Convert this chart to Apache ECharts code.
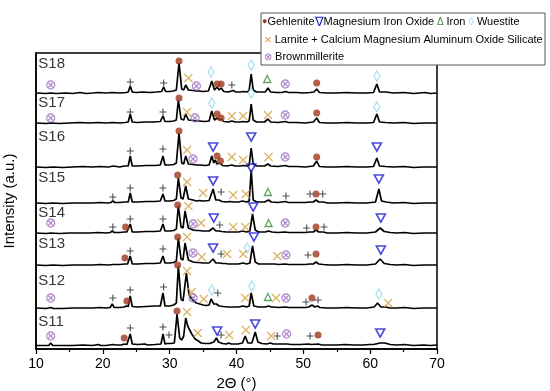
<!DOCTYPE html>
<html><head><meta charset="utf-8">
<script src="https://cdn.jsdelivr.net/npm/echarts@6/dist/echarts.min.js"></script>
<style>html,body{margin:0;padding:0;background:#fff}#c{width:550px;height:391px}</style>
</head><body><div id="c"></div>
<script>
// ---------- data ----------
const sampleNames = ['S18','S17','S16','S15','S14','S13','S12','S11'];
const offsets = [255, 225, 181, 145, 115, 83, 40, 3];
const labelY = [285, 246, 212, 171, 136, 105, 68, 27];
const labelX = 10.35;

const s18 = [[10,1],[11.5,0.5],[12.2,1],[13,0.5],[14.5,1],[15.5,0.5],[16.6,1.5],[17.5,0.5],[18.5,1],[19.3,1.5],[20.5,1],[21.5,1.5],[22.5,1],[23.5,1.5],[23.8,2],[24.1,8],[24.4,2],[25,1.5],[26,2],[27,1.5],[28,2],[28.8,2.5],[29.1,7],[29.4,2.5],[30,2.5],[30.5,3],[31.0,4],[31.4,31],[31.8,5],[32.1,4],[32.4,9],[32.8,4],[33.5,3.5],[34.0,3],[34.4,3],[35,2.5],[35.8,3],[36.3,13],[36.7,4],[37.1,7],[37.4,4],[37.7,6],[38.1,2.5],[38.8,2],[39.5,3.5],[39.9,2],[40.5,2],[41.0,2.5],[41.6,2],[41.9,4],[42.2,20],[42.5,4],[43,2],[43.8,2],[44.3,2],[44.7,6],[45.1,2],[46,1.5],[46.8,1.5],[47.3,2.5],[47.8,1.5],[49,1.5],[50,1],[51,1.5],[51.6,2],[52.0,5],[52.4,1.5],[53.5,1],[55,1],[56.5,1.5],[58,1],[59.5,1],[60.5,1.5],[61.0,10],[61.4,2],[62.3,2],[63.5,1],[65.1,1.5],[66.5,0.5],[68.2,1.5],[69,0.5],[70,1]];
const s17 = [[10,1],[11.5,0.5],[12.2,1],[13.5,0.5],[15,1],[16.5,1.5],[18,1],[19.3,1.5],[20.5,1],[21.5,1.5],[22.5,1],[23.3,1.5],[23.8,2],[24.1,10],[24.4,2],[25.2,1.5],[26.3,2],[27.5,2],[28.6,2.5],[29.0,8],[29.3,2.5],[30,2.5],[30.6,3],[31.0,4],[31.3,24],[31.7,5],[32.1,4],[32.4,10],[32.8,4],[33.5,3.5],[34.0,3],[34.4,3],[35.2,2.5],[35.9,3],[36.3,13],[36.7,4],[37.1,6],[37.4,4],[37.7,5],[38.1,2.5],[38.8,2],[39.3,3],[39.8,2],[40.5,2],[41.0,2.5],[41.6,2],[41.9,3],[42.2,20],[42.5,4],[43,2],[44.2,2],[44.7,5],[45.1,2],[46.2,1.5],[47.3,2.5],[47.8,1.5],[49,1.5],[50.3,1],[51.5,2],[52.0,6],[52.4,1.5],[53.5,1],[55,1],[56.5,1.5],[58,1],[59.5,1],[60.5,1.5],[61.0,10],[61.4,2],[62.3,1.5],[63.5,1],[65.1,1.5],[66.5,0.5],[68,1],[70,1]];
const s16 = [[10,1],[11.5,0.5],[12.5,1],[14,0.5],[15.5,1],[17,1.5],[18.5,1],[19.5,1.5],[20.8,1],[21.6,2],[22.5,1],[23.2,2],[23.8,2],[24.1,12],[24.4,2],[25.2,2],[26.5,2.5],[27.8,2.5],[28.6,3],[29.0,12],[29.3,3],[30,3],[30.6,3.5],[31.0,5],[31.4,35],[31.8,5],[32.1,4],[32.4,12],[32.8,4],[33.5,3.5],[34.0,3],[34.6,3],[35.3,2.5],[35.9,3],[36.3,12],[36.6,5],[36.8,8],[37.1,4],[37.5,5],[37.9,2.5],[38.6,2],[39.3,3],[39.8,2],[40.5,2],[41.0,2.5],[41.6,2],[41.9,3],[42.2,20],[42.5,4],[43,2],[44.2,2],[44.7,4],[45.1,2],[46.2,1.5],[47.3,2.5],[47.8,1.5],[49,1.5],[50.3,1],[51.5,2],[52.0,7],[52.4,1.5],[53.5,1],[55,1],[56.5,1.5],[58,1],[59.5,1],[60.5,1.5],[61.0,10],[61.4,2],[62.3,1.5],[63.5,1],[65.1,1.5],[66.5,0.5],[68,1],[70,1]];
const s15 = [[10,1],[11.5,0.5],[12.5,1],[14,0.5],[15.5,1],[17,1],[18.5,1],[19.5,1.5],[20.8,1],[21.2,1.5],[21.5,3],[21.8,1.5],[22.5,1.5],[23.3,2],[23.8,2],[24.1,11],[24.4,2],[25.2,2],[26.5,2.5],[27.8,2.5],[28.6,3],[29.0,10],[29.3,3],[30,3],[30.6,3.5],[31.0,5],[31.3,26],[31.7,6],[32.0,5],[32.4,18],[32.8,5],[33.5,4],[34.0,3],[34.4,3.5],[35.0,3],[35.9,3.5],[36.5,15],[36.9,4],[37.4,4],[37.8,2.5],[38.5,2],[39.0,2.5],[39.6,2],[40.3,2],[40.9,3],[41.5,2],[41.9,3],[42.2,34],[42.5,4],[43,2],[44.2,2],[44.8,4],[45.2,2],[46.2,1.5],[47.3,2.5],[47.8,1.5],[49,1.5],[50.3,1.5],[51.0,2],[51.5,2],[51.9,4],[52.3,2],[53.0,2],[53.6,1],[55,1],[56.5,1.5],[58,1],[59.5,1],[60.8,2],[61.3,15],[61.7,3],[62.4,2],[63.5,1],[65.1,1.5],[66.5,0.5],[68,1],[70,1]];
const s14 = [[10,1],[11.5,0.5],[12.2,1],[13.5,0.5],[15,1],[16.5,1],[18,1],[19.3,1.5],[20.5,1],[21.1,1.5],[21.4,3],[21.7,1.5],[22.5,1.5],[23.2,2],[23.6,2],[24.1,10],[24.4,2],[25.2,2],[26.5,2.5],[27.8,2.5],[28.6,3],[29.0,10],[29.3,3],[30,3],[30.6,3.5],[31.0,5],[31.3,28],[31.7,7],[32.0,6],[32.3,23],[32.8,6],[33.5,4],[34.0,3.5],[34.4,3.5],[35.0,3],[35.9,3],[36.5,6],[36.9,3],[37.4,3],[37.8,2.5],[38.5,2],[39.0,2],[39.6,2],[40.3,2],[40.9,3],[41.5,2],[42.0,3],[42.4,20],[42.8,4],[43.3,2],[44.3,2],[44.8,3],[45.3,2],[46.2,1.5],[47.3,2],[47.8,1.5],[49,1.5],[50.3,1.5],[50.9,2],[51.5,2],[51.9,4],[52.3,2],[53.0,2],[53.6,1],[55,1],[56.5,1.5],[58,1],[59.5,1],[60.8,2],[61.5,6],[62.1,2.5],[63,1.5],[64,1],[65.1,1.5],[66.5,0.5],[68,1],[70,1]];
const s13 = [[10,1],[11.5,0.5],[12.5,1],[14,0.5],[15.5,1],[17,1],[18.5,1],[19.5,1.5],[20.8,1],[21.5,1.5],[22.5,1.5],[23.3,2],[23.7,2],[24.1,10],[24.4,2],[25.2,2],[26.5,2.5],[27.8,2.5],[28.6,3],[29.0,10],[29.3,3],[30,3],[30.6,3.5],[31.0,5],[31.3,28],[31.7,7],[32.0,6],[32.3,23],[32.8,6],[33.5,4],[34.0,3.5],[34.4,3.5],[35.0,3],[35.9,3],[36.5,7],[36.9,3],[37.5,3],[37.9,2.5],[38.3,2.5],[38.8,2],[39.6,2],[40.3,2],[41.0,3],[41.5,2],[42.0,3],[42.4,20],[42.8,4],[43.3,2],[44.3,2],[45.0,2],[45.7,2],[46.3,1.5],[47.3,2],[47.8,1.5],[49,1.5],[50.3,1.5],[51.0,2],[51.5,2],[51.9,4],[52.3,2],[53.0,1.5],[54,1],[55,1],[56.5,1.5],[58,1],[59.5,1],[60.8,2],[61.5,7],[62.1,2.5],[63,1.5],[64,1],[65.1,1.5],[66.5,0.5],[68,1],[70,1]];
const s12 = [[10,1],[11.5,0.5],[12.2,1.5],[12.6,0.5],[14,0.5],[15.5,1],[17,1],[18.5,1],[19.5,1.5],[20.5,1],[21.1,1.5],[21.4,5],[21.7,1.5],[22.5,1.5],[23.2,2],[23.5,3],[23.8,2.5],[24.1,13],[24.4,2.5],[25.2,2],[26.5,2.5],[27.8,3],[28.6,3],[29.0,16],[29.3,3],[30,3],[30.6,4],[31.0,6],[31.3,43],[31.7,10],[32.0,8],[32.5,36],[32.9,14],[33.3,10],[33.6,8],[34.0,6],[34.5,5],[35.0,4],[35.5,3.5],[35.9,4],[36.2,10],[36.6,5],[37.0,5],[37.4,3],[38,2.5],[38.8,2],[39.6,2],[40.3,2],[41.0,3],[41.5,2],[41.9,3],[42.2,16],[42.6,3],[43.3,2],[44.3,2],[44.8,3],[45.2,2],[45.5,2],[46.3,1.5],[47.3,2],[47.8,1.5],[49,1.5],[50.3,1.5],[50.8,2],[51.3,4],[51.7,2],[52.1,3],[52.5,1.5],[53.5,1],[55,1],[56.5,1.5],[58,1],[59.5,1],[60.6,2],[61.1,6],[61.6,2],[62.3,2],[63,1],[64,1],[65.1,1.5],[66.5,0.5],[68,1],[70,1]];
const s11 = [[10,0.5],[11.5,0.5],[11.9,0.5],[12.2,3],[12.5,0.5],[14,0.5],[15.5,0.5],[17,1],[18.5,0.5],[19.3,1.5],[19.7,0.5],[20.5,0.5],[21.5,1.5],[22.0,1],[22.8,1],[23.2,2],[23.6,1.5],[24.1,12],[24.4,2],[25.2,1.5],[26.3,2],[26.7,1],[27.8,1.5],[28.7,2],[29.0,12],[29.3,2],[29.6,2.5],[29.8,4],[30.1,2.5],[30.7,3],[31.1,32],[31.5,8],[31.8,6],[32.1,10],[32.4,28],[32.7,20],[33.0,16],[33.3,12],[33.5,10],[33.8,7],[34.0,5],[34.3,5],[34.7,3],[35.3,2.5],[36,2.5],[36.6,4],[37.0,8],[37.3,4],[37.5,4],[37.9,2.5],[38.5,2],[38.8,3],[39.2,2],[40.2,2],[40.9,3],[41.3,10],[41.7,3],[42.3,3],[42.8,14],[43.2,4],[43.8,2.5],[44.5,2],[45.1,3],[45.5,2],[46.1,2],[47.0,2],[47.6,2],[48.2,1.5],[49.5,1.5],[50.8,2],[51.2,1.5],[52.2,2],[52.8,1],[54,1],[55,1],[56.2,1.5],[57.5,1],[59,1],[59.8,1.5],[60.5,1.5],[61.5,3],[62.2,3],[63,1.5],[64,1],[65.1,1.5],[66.5,0.5],[68,1],[69,0.5],[70,1]];
const spectra = [s18, s17, s16, s15, s14, s13, s12, s11];

// phase markers [2theta, y]
const gehlenite = [[31.4,288],[37.1,265],[37.7,265],[52.0,266],[31.4,251],[37.1,235],[37.7,231],[52.0,236],[31.4,218],[37.1,193],[37.6,188],[52.0,192],[31.2,174],[51.9,155],[23.4,122],[31.2,144],[51.9,122],[23.3,91],[31.2,112],[51.9,95],[23.6,48],[31.2,84],[51.3,51],[23.2,11],[31.1,38],[52.2,14]];
const mgFeOxide = [[36.5,202],[42.2,212],[61.0,202],[36.5,168],[42.2,181],[61.3,170],[36.6,131],[42.5,142],[61.6,131],[36.5,101],[42.6,112],[61.6,99],[37.1,18],[42.8,25],[61.5,16]];
const iron = [[44.6,270],[44.7,157],[44.8,126],[44.7,52]];
const wuestite = [[36.2,277],[42.2,284],[61.0,273],[36.3,246],[42.2,256],[61.0,242],[41.6,101],[36.3,59],[42.3,63],[61.3,55]];
const larnite = [[32.8,271],[32.6,237],[39.3,233],[41.0,233],[44.7,234],[32.6,199],[39.3,192],[41.0,189],[44.8,192],[32.6,167],[35.0,156],[39.5,154],[41.4,155],[32.8,143],[34.7,126],[39.5,122],[41.3,122],[32.6,112],[34.8,92],[38.6,95],[41.0,95],[46.1,93],[32.6,78],[33.3,57],[35.1,50],[41.3,51],[45.9,51],[62.7,46],[32.6,37],[34.2,16],[38.9,14],[41.4,19],[45.2,13]];
const cmaos = [[24.1,267],[29.1,266],[39.3,264],[24.1,237],[29.0,237],[24.1,198],[29.0,200],[21.5,152],[24.1,161],[29.0,161],[37.7,157],[47.4,153],[51.0,155],[52.9,155],[21.5,122],[24.1,130],[29.0,130],[37.5,124],[50.5,121],[53.1,122],[24.1,98],[29.0,100],[37.7,95],[50.7,94],[21.5,51],[24.1,59],[29.1,62],[37.2,56],[50.4,47],[52.2,49],[24.1,21],[29.0,22],[29.9,14],[37.7,14],[46.1,13],[51.0,13]];
const brownmillerite = [[12.2,264],[34.0,263],[47.3,265],[12.2,231],[33.8,231],[47.3,234],[33.5,190],[47.3,192],[12.2,126],[33.5,125],[47.3,126],[33.5,96],[47.4,94],[12.2,51],[33.5,51],[47.4,51],[12.2,13],[47.5,15]];

// ---------- chart ----------
const FONT = 'Liberation Sans, Arial, sans-serif';
const C = {geh:'#9e3a1c', mgo:'#1a1ad2', fe:'#3c8a3c', wus:'#8fd6ee', lar:'#d2a040', cma:'#222222', bro:'#a070c0'};

function markerSeries(name, data, symbol, size, color, filled, bw) {
  return {
    type:'scatter', name, data, symbol, symbolSize:size, z:5,
    itemStyle: filled ? {color} : {color:'rgba(0,0,0,0)', borderColor:color, borderWidth:bw || 1.3},
    emphasis:{disabled:true}, silent:true
  };
}

const series = [];
spectra.forEach((sp, i) => {
  series.push({
    type:'line', name:sampleNames[i], data: sp.map(p => [p[0], p[1] + offsets[i]]),
    showSymbol:false, symbol:'none', lineStyle:{color:'#000', width:1.7}, z:2, silent:true
  });
});
series.push(markerSeries('Gehlenite', gehlenite, 'circle', 7, C.geh, true));
series.push(markerSeries('Magnesium Iron Oxide', mgFeOxide, 'path://M0,0L10,0L5,9Z', [9,8], C.mgo, false, 1.6));
series.push(markerSeries('Iron', iron, 'path://M5,0L10,9L0,9Z', [7,7], C.fe, false));
series.push(markerSeries('Wuestite', wuestite, 'path://M5,0L10,8L5,16L0,8Z', [6,10], C.wus, false));
series.push(markerSeries('Larnite', larnite, 'path://M0,0L10,10M10,0L0,10', [8,8], C.lar, false));
series.push(markerSeries('Calcium Magnesium Aluminum Oxide Silicate', cmaos, 'path://M5,0L5,10M0,5L10,5', [7,7], C.cma, false, 1.1));
series.push(markerSeries('Brownmillerite', brownmillerite, 'path://M10,5A5,5,0,1,1,0,5A5,5,0,1,1,10,5ZM1.6,1.6L8.4,8.4M8.4,1.6L1.6,8.4', [8,8], C.bro, false));
series.push({
  type:'scatter', name:'labels', symbolSize:0, silent:true, z:6,
  data: sampleNames.map((n, i) => ({name:n, value:[labelX, labelY[i]]})),
  label:{show:true, position:'right', distance:0, formatter:p => p.name, color:'#000', fontSize:15, fontFamily:FONT}
});

const chart = echarts.init(document.getElementById('c'), null, {renderer:'canvas'});
chart.setOption({
  animation:false,
  backgroundColor:'#fff',
  grid:{left:36, right:113, top:53, bottom:42, show:true, borderColor:'#000', borderWidth:1.5, containLabel:false, outerBoundsMode:'none'},
  xAxis:{
    type:'value', min:10, max:70, interval:10,
    axisLine:{show:true, lineStyle:{color:'#000', width:1.5}},
    axisTick:{show:true, inside:false, length:5, lineStyle:{color:'#000', width:1.2}},
    minorTick:{show:true, splitNumber:2, length:3, lineStyle:{color:'#000', width:1.2}},
    axisLabel:{color:'#000', fontSize:14, fontFamily:FONT, margin:8},
    splitLine:{show:false},
    name:'2\u0398 (\u00b0)', nameLocation:'middle', nameGap:25,
    nameTextStyle:{color:'#000', fontSize:15, fontFamily:FONT}
  },
  yAxis:{
    type:'value', min:0, max:296,
    axisLine:{show:true, lineStyle:{color:'#000', width:1.5}},
    axisTick:{show:false}, axisLabel:{show:false}, splitLine:{show:false},
    name:'Intensity (a.u.)', nameLocation:'middle', nameGap:19, nameRotate:90,
    nameTextStyle:{color:'#000', fontSize:15, fontFamily:FONT}
  },
  series,
  graphic:[
    {type:'rect', z:100, shape:{x:261, y:13, width:284, height:52}, style:{fill:'#fff', stroke:'#555', lineWidth:1}},
    {type:'text', z:101, x:262, y:22, style:{
      text:'{g|●}Gehlenite{m|∇}Magnesium Iron Oxide{i| Δ }Iron{w| ◊ }Wuestite',
      fill:'#000', fontSize:11, fontFamily:FONT, verticalAlign:'middle',
      rich:{g:{fill:C.geh, fontSize:9, fontFamily:FONT}, m:{fill:C.mgo, fontSize:13, fontFamily:FONT}, i:{fill:C.fe, fontSize:10, fontFamily:FONT}, w:{fill:C.wus, fontSize:11, fontFamily:FONT}}
    }},
    {type:'text', z:101, x:264, y:40, style:{
      text:'{l|×} Larnite + Calcium Magnesium Aluminum Oxide Silicate',
      fill:'#000', fontSize:11, fontFamily:FONT, verticalAlign:'middle',
      rich:{l:{fill:C.lar, fontSize:13, fontFamily:FONT}}
    }},
    {type:'text', z:101, x:264, y:57, style:{
      text:'{b|⊗} Brownmillerite',
      fill:'#000', fontSize:11, fontFamily:FONT, verticalAlign:'middle',
      rich:{b:{fill:C.bro, fontSize:10, fontFamily:FONT}}
    }}
  ]
});
</script>
</body></html>
